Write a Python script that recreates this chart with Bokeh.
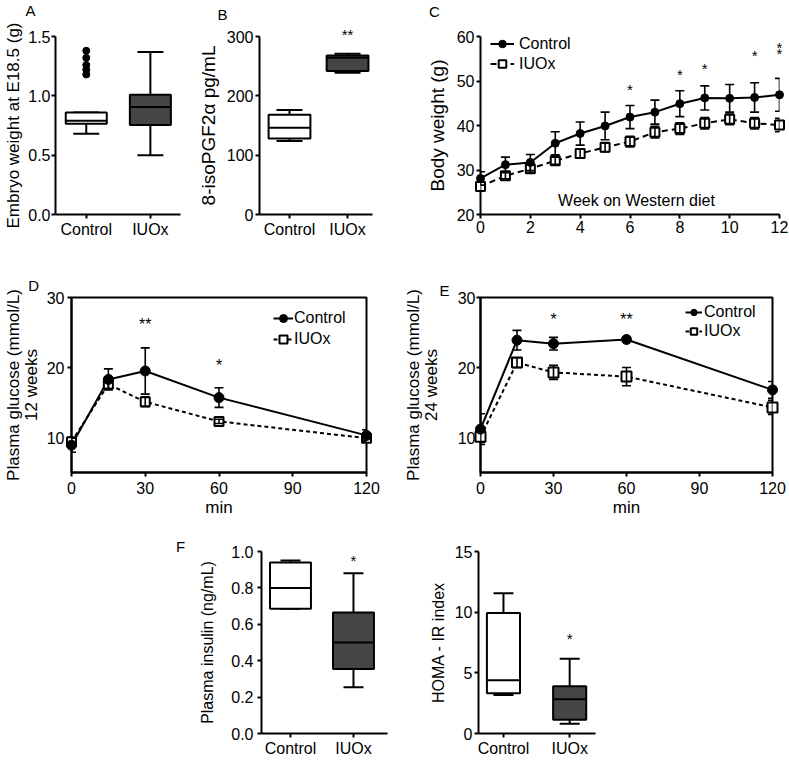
from bokeh.plotting import figure
from bokeh.layouts import row, column
from bokeh.models import (ColumnDataSource, Whisker, TeeHead, FixedTicker,
                          Spacer, Legend, LegendItem, NumeralTickFormatter, Range1d)
from bokeh.core.properties import value
from bokeh.embed import file_html
from bokeh.resources import INLINE

FONT = "Liberation Sans"

# ---------------- data ----------------
groups = ["Control", "IUOx"]
group_pos = [1, 2]
box_fill = ["white", "#454545"]

# A: embryo weight at E18.5 (g)
a_low = [0.68, 0.50]
a_q1 = [0.765, 0.755]
a_med = [0.79, 0.905]
a_q3 = [0.86, 1.01]
a_high = [0.86, 1.37]
a_outliers = [1.18, 1.22, 1.26, 1.32, 1.38]   # Control group

# B: 8-isoPGF2a pg/mL
b_low = [124, 239]
b_q1 = [128, 242]
b_med = [146, 264]
b_q3 = [168, 268]
b_high = [176, 271]
b_star_x = [2]
b_star_y = [303]
b_star_txt = ["**"]

# C: body weight on Western diet
weeks = [0, 1, 2, 3, 4, 5, 6, 7, 8, 9, 10, 11, 12]
c_ctrl = [28.1, 31.2, 31.7, 36.0, 38.2, 39.9, 41.9, 43.0, 44.9, 46.2, 46.1, 46.3, 46.9]
c_ctrl_err = [1.5, 1.7, 1.8, 2.6, 2.6, 3.1, 2.6, 2.7, 2.9, 2.7, 3.1, 3.3, 3.7]
c_iuox = [26.3, 28.7, 30.3, 32.1, 33.7, 35.1, 36.4, 38.5, 39.3, 40.5, 41.4, 40.5, 40.1]
c_iuox_err = [1.0, 0.7, 0.8, 0.8, 1.0, 1.0, 1.2, 1.3, 1.3, 1.3, 1.2, 1.3, 1.5]
c_star_x = [6, 8, 9, 11, 12, 12]
c_star_y = [48.0, 51.5, 52.8, 55.8, 57.6, 56.2]
c_star_txt = ["*", "*", "*", "*", "*", "*"]

# D / E: glucose tolerance (min)
ogtt_min = [0, 15, 30, 60, 120]
d_ctrl = [8.9, 18.3, 19.5, 15.7, 10.3]
d_ctrl_err = [1.0, 1.5, 3.3, 1.4, 0.8]
d_iuox = [9.4, 17.6, 15.1, 12.3, 9.9]
d_iuox_err = [0.5, 0.6, 0.7, 0.3, 0.4]
d_star_x = [30, 60]
d_star_y = [26.2, 20.3]
d_star_txt = ["**", "*"]

e_ctrl = [11.2, 23.9, 23.4, 24.0, 16.8]
e_ctrl_err = [2.2, 1.4, 0.9, 0.3, 1.2]
e_iuox = [10.1, 20.7, 19.3, 18.7, 14.3]
e_iuox_err = [0.8, 0.7, 1.0, 1.3, 1.0]
e_star_x = [30, 60]
e_star_y = [26.9, 26.9]
e_star_txt = ["*", "**"]

# F: plasma insulin (ng/mL)
f_low = [0.685, 0.254]
f_q1 = [0.685, 0.355]
f_med = [0.80, 0.50]
f_q3 = [0.94, 0.665]
f_high = [0.95, 0.88]
f_star_x = [2]
f_star_y = [0.95]
f_star_txt = ["*"]

# HOMA-IR index
h_low = [3.18, 0.81]
h_q1 = [3.31, 1.13]
h_med = [4.39, 2.83]
h_q3 = [9.94, 3.90]
h_high = [11.55, 6.17]
h_star_x = [2]
h_star_y = [7.8]
h_star_txt = ["*"]


# ---------------- helpers ----------------
def base_fig(fig_box, frame_box, x_range, y_range):
    """fig_box / frame_box = (left, top, width, height) in page pixels."""
    fx, fy, fw, fh = fig_box
    rx, ry, rw, rh = frame_box
    left, top = rx - fx, ry - fy
    right, bottom = fw - left - rw, fh - top - rh
    p = figure(width=fw, height=fh, x_range=Range1d(*x_range), y_range=Range1d(*y_range),
               output_backend="svg", toolbar_location=None, title=None,
               min_border_left=left, min_border_right=right,
               min_border_top=top, min_border_bottom=bottom)
    p.grid.grid_line_color = None
    p.outline_line_color = None
    p.background_fill_color = "white"
    p.border_fill_color = "white"
    for ax in p.axis:
        ax.axis_line_width = 2
        ax.axis_line_color = "black"
        ax.major_tick_line_width = 2
        ax.major_tick_line_color = "black"
        ax.major_tick_out = 4
        ax.major_tick_in = 0
        ax.minor_tick_line_color = None
        ax.major_label_text_font = FONT
        ax.major_label_text_font_size = "16px"
        ax.major_label_text_color = "black"
        ax.axis_label_text_font = FONT
        ax.axis_label_text_font_size = "17px"
        ax.axis_label_text_font_style = "normal"
        ax.axis_label_text_color = "black"
        ax.major_label_standoff = 2
    p._frame_box = frame_box
    return p


def page_text(p, txt, px, py, size="15px"):
    """Free text (panel letters, inner captions) placed at a page-pixel position."""
    rx, ry, rw, rh = p._frame_box
    xs, xe = p.x_range.start, p.x_range.end
    ys, ye = p.y_range.start, p.y_range.end
    x = xs + (px - rx) / rw * (xe - xs)
    y = ye - (py - ry) / rh * (ye - ys)
    r = p.text(x=[x], y=[y], text=[txt], text_font=value(FONT), text_font_size=size,
               text_align="center", text_baseline="middle", text_color="black")
    r.level = "overlay"


def stars(p, xs, ys, txt, size="15px"):
    r = p.text(x=xs, y=ys, text=txt, text_font=value(FONT), text_font_size=size,
               text_align="center", text_baseline="middle", text_color="black")
    r.level = "overlay"


def box_panel(p, low, q1, med, q3, high, box_w, cap_px):
    src = ColumnDataSource(dict(x=group_pos, low=low, q1=q1, med=med, q3=q3, high=high,
                                fill=box_fill,
                                x0=[x - box_w / 2 for x in group_pos],
                                x1=[x + box_w / 2 for x in group_pos]))
    up = Whisker(source=src, base="x", lower="q3", upper="high", line_width=2, line_color="black",
                 upper_head=TeeHead(size=cap_px, line_width=2, line_color="black"), lower_head=None)
    dn = Whisker(source=src, base="x", lower="low", upper="q1", line_width=2, line_color="black",
                 lower_head=TeeHead(size=cap_px, line_width=2, line_color="black"), upper_head=None)
    p.add_layout(up)
    p.add_layout(dn)
    p.vbar(x="x", width=box_w, bottom="q1", top="q3", fill_color="fill", line_color="black",
           line_width=2, source=src)
    p.segment(x0="x0", x1="x1", y0="med", y1="med", line_color="black", line_width=2, source=src)
    p.xaxis.ticker = FixedTicker(ticks=group_pos)
    p.xaxis.major_label_overrides = {x: g for x, g in zip(group_pos, groups)}
    p.xaxis.major_label_text_font_size = "16px"


def series_panel(p, xs, ctrl, ctrl_err, iuox, iuox_err, msize, ssize, cap, dash):
    src = ColumnDataSource(dict(x=xs, c=ctrl, i=iuox,
                                c_lo=[v - e for v, e in zip(ctrl, ctrl_err)],
                                c_hi=[v + e for v, e in zip(ctrl, ctrl_err)],
                                i_lo=[v - e for v, e in zip(iuox, iuox_err)],
                                i_hi=[v + e for v, e in zip(iuox, iuox_err)]))
    r3 = p.line("x", "i", source=src, line_color="black", line_width=2, line_dash=dash)
    r1 = p.line("x", "c", source=src, line_color="black", line_width=2)
    for lo, hi in (("i_lo", "i_hi"), ("c_lo", "c_hi")):
        w = Whisker(source=src, base="x", lower=lo, upper=hi, line_width=1.6, line_color="black",
                    upper_head=TeeHead(size=cap, line_width=1.6, line_color="black"),
                    lower_head=TeeHead(size=cap, line_width=1.6, line_color="black"))
        w.level = "overlay"
        p.add_layout(w)
    r4 = p.scatter("x", "i", source=src, marker="square", size=ssize, fill_color="white",
                   line_color="black", line_width=2)
    r2 = p.scatter("x", "c", source=src, marker="circle", size=msize, fill_color="black",
                   line_color="black")
    for r in (r1, r2, r3, r4):
        r.level = "overlay"
    return (r1, r2), (r3, r4)


def add_legend(p, ctrl_r, iuox_r, size="16px", **kw):
    leg = Legend(items=[LegendItem(label="Control", renderers=list(ctrl_r)),
                        LegendItem(label="IUOx", renderers=list(iuox_r))],
                 border_line_color=None, background_fill_alpha=0, margin=0, padding=0,
                 label_text_font=FONT, label_text_font_size=size, label_text_color="black",
                 **kw)
    p.add_layout(leg)
    return leg


# ---------------- Panel A ----------------
pA = base_fig((0, 0, 192, 255), (55, 36, 125, 182), (0.52, 2.47), (0, 1.5))
box_panel(pA, a_low, a_q1, a_med, a_q3, a_high, 0.64, 26)
pA.scatter(x=[group_pos[0]] * len(a_outliers), y=a_outliers, size=7, color="black")
pA.yaxis.ticker = FixedTicker(ticks=[0, 0.5, 1.0, 1.5])
pA.yaxis.formatter = NumeralTickFormatter(format="0.0")
pA.yaxis.axis_label = "Embryo weight at E18.5 (g)"
pA.yaxis.major_label_standoff = 1
pA.yaxis.axis_label_standoff = 2
page_text(pA, "A", 30, 9)

# ---------------- Panel B ----------------
pB = base_fig((192, 0, 203, 255), (259, 32, 113, 182), (0.483, 2.43), (0, 300))
box_panel(pB, b_low, b_q1, b_med, b_q3, b_high, 0.72, 26)
stars(pB, b_star_x, b_star_y, b_star_txt)
pB.yaxis.ticker = FixedTicker(ticks=[0, 100, 200, 300])
pB.yaxis.axis_label = "8-isoPGF2α pg/mL"
pB.yaxis.axis_label_text_font_size = "19px"
pB.yaxis.axis_label_standoff = 5
page_text(pB, "B", 222, 9)

# ---------------- Panel C ----------------
pC = base_fig((395, 0, 394, 255), (480, 34, 299, 181), (0, 12), (20, 60))
cr, ir = series_panel(pC, weeks, c_ctrl, c_ctrl_err, c_iuox, c_iuox_err, 8, 9, 9, "6 4")
stars(pC, c_star_x, c_star_y, c_star_txt)
pC.yaxis.ticker = FixedTicker(ticks=[20, 30, 40, 50, 60])
pC.xaxis.ticker = FixedTicker(ticks=[0, 2, 4, 6, 8, 10, 12])
pC.yaxis.axis_label = "Body weight (g)"
pC.yaxis.axis_label_text_font_size = "19px"
pC.yaxis.axis_label_standoff = 6
add_legend(pC, cr, ir, location=(10, 141), spacing=1,
           glyph_width=24, glyph_height=19, label_height=19, label_standoff=5)
page_text(pC, "Week on Western diet", 636, 201, "16px")
page_text(pC, "C", 434, 9)

# ---------------- Panel D ----------------
pD = base_fig((0, 255, 400, 265), (70, 294, 296, 178), (0, 120), (5, 30))
pD.outline_line_color = "black"
pD.outline_line_width = 2
cr, ir = series_panel(pD, ogtt_min, d_ctrl, d_ctrl_err, d_iuox, d_iuox_err, 10, 9, 9, "4 3")
stars(pD, d_star_x, d_star_y, d_star_txt, "16px")
pD.yaxis.ticker = FixedTicker(ticks=[10, 20, 30])
pD.xaxis.ticker = FixedTicker(ticks=[0, 30, 60, 90, 120])
pD.xaxis.axis_label = "min"
pD.xaxis.axis_label_standoff = 1
pD.xaxis.major_label_standoff = 5
pD.yaxis.major_label_standoff = 3
pD.yaxis.axis_label = "Plasma glucose (mmol/L)\n12 weeks"
pD.yaxis.axis_label_text_line_height = 0.95
pD.yaxis.axis_label_standoff = 3
add_legend(pD, cr, ir, location=(202, 123), spacing=1,
           glyph_width=20, glyph_height=20, label_height=20, label_standoff=1, label_width=52)
page_text(pD, "D", 32, 282)

# ---------------- Panel E ----------------
pE = base_fig((400, 255, 389, 265), (480, 297, 292, 176), (0, 120), (5, 30))
pE.outline_line_color = "black"
pE.outline_line_width = 2
cr, ir = series_panel(pE, ogtt_min, e_ctrl, e_ctrl_err, e_iuox, e_iuox_err, 10, 10, 9, "4 3")
stars(pE, e_star_x, e_star_y, e_star_txt, "16px")
pE.yaxis.ticker = FixedTicker(ticks=[10, 20, 30])
pE.xaxis.ticker = FixedTicker(ticks=[0, 30, 60, 90, 120])
pE.xaxis.axis_label = "min"
pE.xaxis.axis_label_standoff = 1
pE.xaxis.major_label_standoff = 5
pE.yaxis.major_label_standoff = 1
pE.yaxis.axis_label = "Plasma glucose (mmol/L)\n24 weeks"
pE.yaxis.axis_label_text_line_height = 0.95
pE.yaxis.axis_label_standoff = 14
add_legend(pE, cr, ir, location=(205, 132), spacing=1,
           glyph_width=17, glyph_height=16, label_height=16, label_standoff=2, label_width=52)
page_text(pE, "E", 444, 290)

# ---------------- Panel F: insulin ----------------
pF = base_fig((170, 520, 230, 239), (261, 551, 126, 186), (0.54, 2.54), (0, 1.0))
box_panel(pF, f_low, f_q1, f_med, f_q3, f_high, 0.65, 20)
stars(pF, f_star_x, f_star_y, f_star_txt)
pF.yaxis.ticker = FixedTicker(ticks=[0, 0.2, 0.4, 0.6, 0.8, 1.0])
pF.yaxis.formatter = NumeralTickFormatter(format="0.0")
pF.yaxis.major_label_standoff = 4
pF.yaxis.axis_label = "Plasma insulin (ng/mL)"
pF.yaxis.axis_label_text_font_size = "16px"
pF.yaxis.axis_label_standoff = 12
page_text(pF, "F", 180, 546)

# ---------------- Panel F: HOMA-IR ----------------
pH = base_fig((400, 520, 220, 239), (478, 551, 117, 186), (0.623, 2.39), (0, 15))
box_panel(pH, h_low, h_q1, h_med, h_q3, h_high, 0.5, 20)
stars(pH, h_star_x, h_star_y, h_star_txt)
pH.yaxis.ticker = FixedTicker(ticks=[0, 5, 10, 15])
pH.yaxis.axis_label = "HOMA - IR index"
pH.yaxis.axis_label_text_font_size = "16px"
pH.yaxis.axis_label_standoff = 5

layout = column(
    row(pA, pB, pC),
    row(pD, pE),
    row(Spacer(width=170, height=239), pF, pH),
)

open("out.html", "w").write(file_html(layout, INLINE))
